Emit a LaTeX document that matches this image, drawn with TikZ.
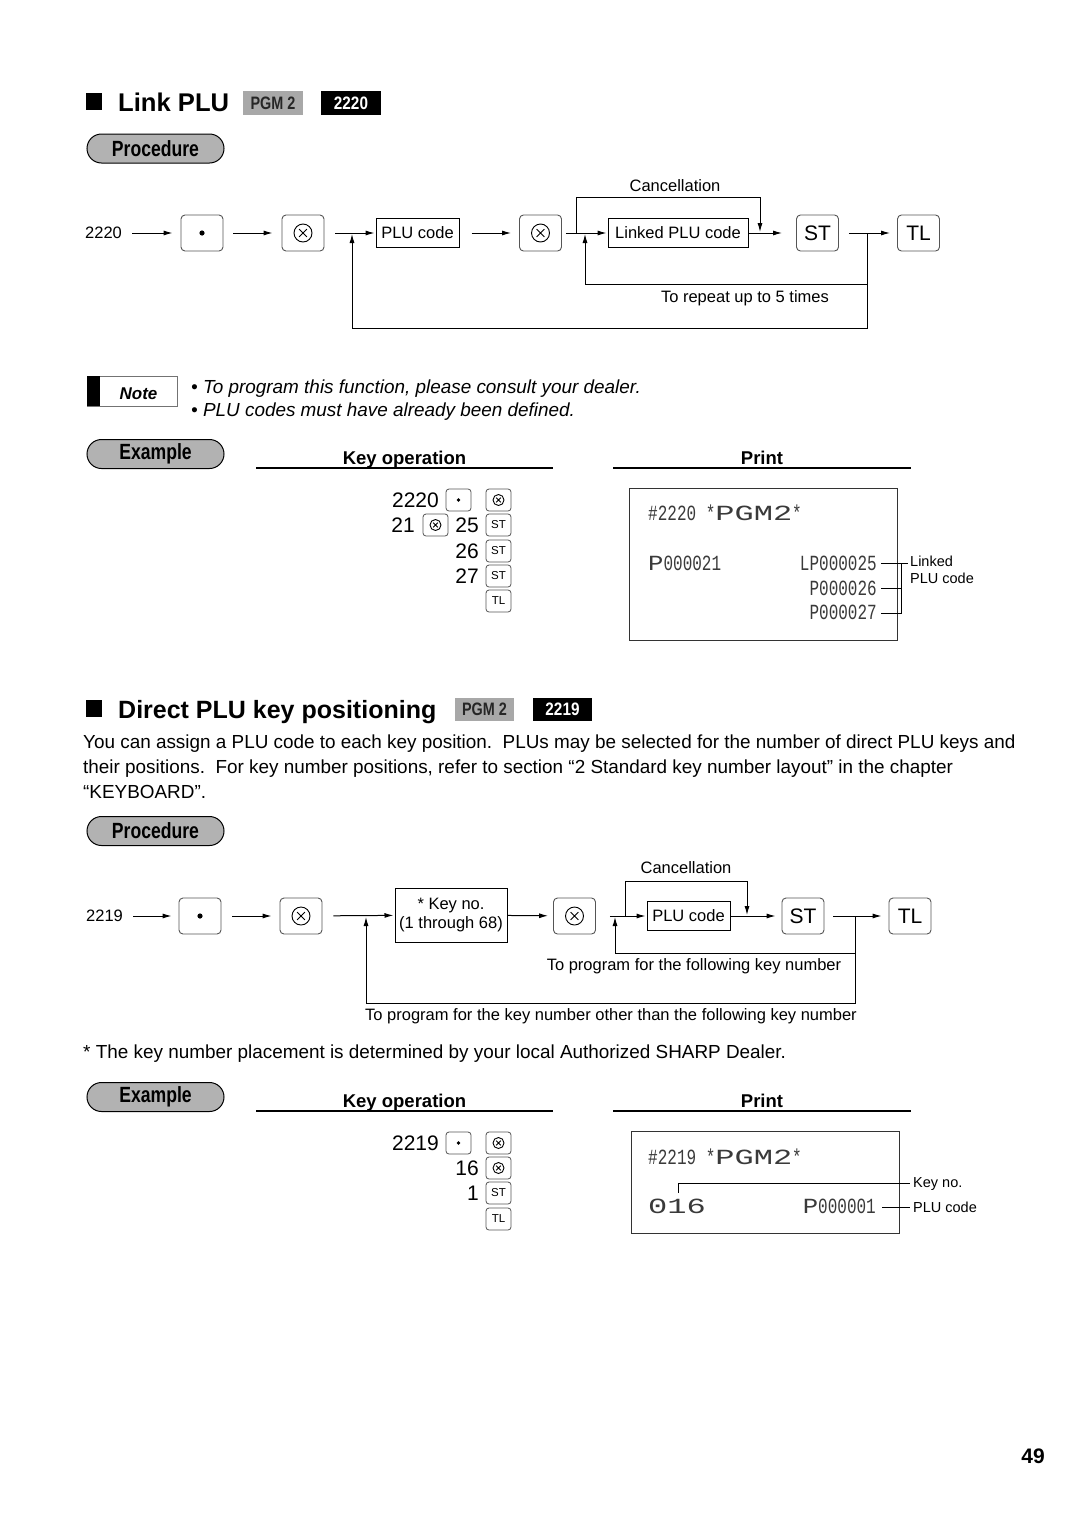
\documentclass[tikz,border=0pt]{standalone}
\usepackage{fontspec}
\usepackage{graphicx}
\setmainfont{Liberation Sans}
\newfontfamily\monofont{Liberation Mono}
\usetikzlibrary{arrows.meta}
\newcommand\fsz[2]{\fontsize{#1}{#2}\selectfont}
\newcommand\otimesmark[3]{\draw[line width=0.9pt] (#1.center) circle (#2)
  ([shift={(45:#3)}]#1.center) -- ([shift={(225:#3)}]#1.center)
  ([shift={(135:#3)}]#1.center) -- ([shift={(-45:#3)}]#1.center);}
\newcommand\dotmark[2]{\fill (#1.center) circle (#2);}
\newcommand\dm{\monofont\fsz{16}{16}}
\newcommand\tall[1]{\scalebox{1}[1.35]{#1}}
\definecolor{pillgray}{HTML}{B2B2B2}
\definecolor{pgmgray}{HTML}{A8A8A8}
\definecolor{keyedge}{HTML}{555555}
\definecolor{printgray}{HTML}{3A3A3A}
\tikzset{
 flow/.style={-{Latex[length=9pt,width=5pt]}, line width=1pt},
 wire/.style={line width=1pt},
 keybig/.style={draw=keyedge, line width=0.9pt, rounded corners=4pt, minimum width=42pt, minimum height=36pt, inner sep=0pt, font=\fsz{21}{21}},
 keysm/.style={draw=keyedge, line width=0.8pt, rounded corners=3pt, minimum width=25pt, minimum height=22pt, inner sep=0pt, font=\fsz{11.5}{11.5}},
 codebox/.style={draw, line width=1pt, minimum height=29pt, inner xsep=4pt, inner ysep=0pt, font=\fsz{16.5}{19}},
 lbl/.style={font=\fsz{16.5}{19}, inner sep=0pt},
 pill/.style={draw, line width=1pt, fill=pillgray, rounded corners=14.5pt, minimum width=137pt, minimum height=29pt, inner sep=0pt},
 pgm/.style={fill=pgmgray, minimum width=60pt, minimum height=24pt, inner sep=0pt, text=black!85, font=\fsz{18}{18}\bfseries},
 codetag/.style={fill=black, minimum width=60pt, minimum height=24pt, inner sep=0pt, text=white, font=\fsz{18}{18}\bfseries},
 head/.style={font=\fsz{18.5}{18.5}\bfseries, inner sep=0pt},
 num/.style={font=\fsz{21}{21}, inner sep=0pt, anchor=east},
 body/.style={font=\fsz{18.9}{18.9}, inner sep=0pt, anchor=base west},
 prt/.style={font=\dm, text=printgray, inner sep=0pt},
 small/.style={font=\fsz{14.5}{17}, inner sep=0pt, anchor=west, align=left},
}
\begin{document}
\begin{tikzpicture}[x=1pt,y=-1pt]
\useasboundingbox (0,0) rectangle (1080,1526);
\fill[white] (0,0) rectangle (1080,1526);

% ===== Section 1 title =====
\fill (86,93) rectangle (102,110);
\node[anchor=base west, inner sep=0pt, font=\fsz{25.6}{25.6}\bfseries] (t1) at (118,111) {Link PLU};
\node[pgm] (pgm1) at (273,103) {\scalebox{0.8}[1]{PGM 2}};
\node[codetag] (tag1) at (351,103) {\scalebox{0.85}[1]{2220}};
\node[pill] (proc1) at (155.5,148.5) {\scalebox{0.8}[1]{\fsz{22}{22}\bfseries Procedure}};

% ===== Flow 1 =====
\node[lbl, anchor=west] (s1) at (85,233) {2220};
\node[keybig] (k1a) at (202,233) {};
\dotmark{k1a}{2.6pt}
\node[keybig] (k1b) at (303,233) {};
\otimesmark{k1b}{9pt}{5.5pt}
\node[codebox, minimum width=83pt] (p1) at (417.5,233) {PLU code};
\node[keybig] (k1c) at (540.5,233) {};
\otimesmark{k1c}{9pt}{5.5pt}
\node[codebox, minimum width=140pt] (l1) at (678,233) {Linked PLU code};
\node[keybig] (st1) at (817.5,233) {ST};
\node[keybig] (tl1) at (918.5,233) {TL};

\draw[flow, shorten <=10pt, shorten >=8pt] (s1) -- (k1a);
\draw[flow, shorten <=10pt, shorten >=9pt] (k1a) -- (k1b);
\draw[flow, shorten <=11pt, shorten >=1pt] (k1b) -- (p1);
\draw[flow, shorten <=12pt, shorten >=8pt] (p1) -- (k1c);
\draw[flow, shorten <=4pt, shorten >=1pt] (k1c) -- (l1);
\draw[flow, shorten >=14pt] (l1) -- (st1);
\draw[flow, shorten <=10pt, shorten >=7pt] (st1) -- (tl1);

\coordinate (c1a) at (576,233);
\coordinate (c1b) at (760,232);
\draw[flow] (c1a) -- (576,197) -- (760,197) -- (c1b);
\node[lbl] (canc1) at (675,186) {Cancellation};

\coordinate (j1) at (867,233);
\coordinate (r1) at (585,234);
\coordinate (o1) at (352,234);
\draw[flow] (j1) |- (585,284) -- (r1);
\draw[flow] (j1) |- (352,328) -- (o1);
\node[lbl] (rep1) at (745,298) {To repeat up to 5 times};

% ===== Note =====
\node[draw=black!55, line width=0.8pt, minimum width=90pt, minimum height=30pt, inner sep=0pt, anchor=north west] (note) at (87,376) {};
\fill (87,376) rectangle (100,406);
\node[font=\fsz{17}{17}\bfseries\itshape, inner sep=0pt] (notet) at (138.5,394) {Note};
\node[anchor=base west, font=\fsz{18.9}{18.9}\itshape, inner sep=0pt] (nl1) at (191,393) {• To program this function, please consult your dealer.};
\node[anchor=base west, font=\fsz{18.9}{18.9}\itshape, inner sep=0pt] (nl2) at (191,416) {• PLU codes must have already been defined.};

% ===== Example 1 =====
\node[pill] (ex1) at (155.5,454) {\scalebox{0.8}[1]{\fsz{22}{22}\bfseries Example}};
\node[head] (ko1) at (404.5,459.5) {Key operation};
\draw[line width=1.2pt] (256,468) -- (553,468);
\node[head] (pr1) at (762,458) {Print};
\draw[line width=1.2pt] (613,468) -- (911,468);

\node[num] (e1n1) at (439,500) {2220};
\node[keysm] (e1k1) at (458.5,500) {};
\dotmark{e1k1}{1.8pt}
\node[keysm] (e1k2) at (498.5,500) {};
\otimesmark{e1k2}{5.5pt}{3.3pt}
\node[num] (e1n2) at (415,525) {21};
\node[keysm] (e1k3) at (435.5,525) {};
\otimesmark{e1k3}{5.5pt}{3.3pt}
\node[num] (e1n3) at (479,525) {25};
\node[keysm] (e1k4) at (498.5,525) {ST};
\node[num] (e1n4) at (479,551) {26};
\node[keysm] (e1k5) at (498.5,551) {ST};
\node[num] (e1n5) at (479,576) {27};
\node[keysm] (e1k6) at (498.5,576) {ST};
\node[keysm] (e1k7) at (498.5,601) {TL};

% print 1
\node[draw=black!80, line width=1.1pt, minimum width=268pt, minimum height=152pt, inner sep=0pt, anchor=north west] (pb1) at (629,488) {};
\node[prt, anchor=west] (pa1) at (648,513) {\tall{\#2220 *\scalebox{2}[1]{PGM2}*}};
\node[prt, anchor=west] (pa2) at (648,563) {\tall{\scalebox{1.6}[1]{P}000021}};
\node[prt, anchor=east] (pa3) at (877,563) {\tall{LP000025}};
\node[prt, anchor=east] (pa4) at (877,588) {\tall{P000026}};
\node[prt, anchor=east] (pa5) at (877,612) {\tall{P000027}};
\coordinate (b1) at (908,563);
\coordinate (b2) at (901,588);
\coordinate (b3) at (901,613);
\draw[line width=0.9pt] ([xshift=4pt]pa3.east) -- (b1);
\draw[line width=0.9pt] ([xshift=4pt]pa4.east) -- (b2);
\draw[line width=0.9pt] ([xshift=4pt]pa5.east |- b3) -- (b3) -- (901,563);
\node[small] (lk1) at (910,570) {Linked\\PLU code};

% ===== Section 2 title =====
\fill (86,700) rectangle (102,717);
\node[anchor=base west, inner sep=0pt, font=\fsz{25}{25}\bfseries] (t2) at (118,718) {Direct PLU key positioning};
\node[pgm, minimum width=59pt, minimum height=23pt] (pgm2) at (484.5,709.5) {\scalebox{0.8}[1]{PGM 2}};
\node[codetag, minimum width=59pt, minimum height=23pt] (tag2) at (562.5,709.5) {\scalebox{0.85}[1]{2219}};

\node[body] (par1) at (83,748) {You can assign a PLU code to each key position.\ \ PLUs may be selected for the number of direct PLU keys and};
\node[body] (par2) at (83,773) {their positions.\ \ For key number positions, refer to section “2 Standard key number layout” in the chapter};
\node[body] (par3) at (83,798) {“KEYBOARD”.};

\node[pill] (proc2) at (155.5,831) {\scalebox{0.8}[1]{\fsz{22}{22}\bfseries Procedure}};

% ===== Flow 2 =====
\node[lbl, anchor=west] (s2) at (86,916) {2219};
\node[keybig] (k2a) at (200,916) {};
\dotmark{k2a}{2.6pt}
\node[keybig] (k2b) at (301,916) {};
\otimesmark{k2b}{9pt}{5.5pt}
\node[codebox, minimum width=112pt, minimum height=54pt, align=center] (kb2) at (451,915) {* Key no.\\(1 through 68)};
\node[keybig] (k2c) at (574.5,916) {};
\otimesmark{k2c}{9pt}{5.5pt}
\node[codebox, minimum width=83pt] (p2) at (688.5,916) {PLU code};
\node[keybig] (st2) at (803,916) {ST};
\node[keybig] (tl2) at (910,916) {TL};

\draw[flow, shorten <=10pt, shorten >=7pt] (s2) -- (k2a);
\draw[flow, shorten <=11pt, shorten >=8pt] (k2a) -- (k2b);
\draw[flow, shorten <=11pt, shorten >=1pt] (k2b) -- (kb2);
\draw[flow, shorten >=5pt] (kb2) -- (k2c);
\draw[flow, shorten <=14pt, shorten >=1pt] (k2c) -- (p2);
\draw[flow, shorten >=6pt] (p2) -- (st2);
\draw[flow, shorten <=9pt, shorten >=7pt] (st2) -- (tl2);

\coordinate (c2a) at (625,916);
\coordinate (c2b) at (747,915);
\draw[flow] (c2a) -- (625,881) -- (747,881) -- (c2b);
\node[lbl] (canc2) at (686,868) {Cancellation};

\coordinate (j2) at (855,916);
\coordinate (r2) at (615,917);
\coordinate (o2) at (366,917);
\draw[flow] (j2) |- (615,953) -- (r2);
\draw[flow] (j2) |- (366,1003) -- (o2);
\node[lbl] (fk2) at (694,966) {To program for the following key number};
\node[lbl] (ok2) at (611,1016) {To program for the key number other than the following key number};

\node[body] (foot) at (83,1058) {* The key number placement is determined by your local Authorized SHARP Dealer.};

% ===== Example 2 =====
\node[pill] (ex2) at (155.5,1097) {\scalebox{0.8}[1]{\fsz{22}{22}\bfseries Example}};
\node[head] (ko2) at (404.5,1102.5) {Key operation};
\draw[line width=1.2pt] (256,1111) -- (553,1111);
\node[head] (pr2) at (762,1101) {Print};
\draw[line width=1.2pt] (613,1111) -- (911,1111);

\node[num] (e2n1) at (439,1143) {2219};
\node[keysm] (e2k1) at (458.5,1143) {};
\dotmark{e2k1}{1.8pt}
\node[keysm] (e2k2) at (498.5,1143) {};
\otimesmark{e2k2}{5.5pt}{3.3pt}
\node[num] (e2n2) at (479,1168) {16};
\node[keysm] (e2k3) at (498.5,1168) {};
\otimesmark{e2k3}{5.5pt}{3.3pt}
\node[num] (e2n3) at (479,1193) {1};
\node[keysm] (e2k4) at (498.5,1193) {ST};
\node[keysm] (e2k5) at (498.5,1219) {TL};

% print 2
\node[draw=black!80, line width=1.1pt, minimum width=268pt, minimum height=102pt, inner sep=0pt, anchor=north west] (pb2) at (631,1131) {};
\node[prt, anchor=west] (pc1) at (648,1157) {\tall{\#2219 *\scalebox{2}[1]{PGM2}*}};
\node[prt, anchor=west] (pc2) at (648,1206) {\tall{\scalebox{2}[1]{016}}};
\node[prt, anchor=east] (pc3) at (876,1206) {\tall{\scalebox{1.6}[1]{P}000001}};
\coordinate (kn1) at (678,1193);
\coordinate (kn2) at (910,1183);
\coordinate (pl2) at (910,1207);
\draw[line width=0.9pt] (kn1) |- (kn2);
\draw[line width=0.9pt] ([xshift=6pt]pc3.east |- pl2) -- (pl2);
\node[small] (kl2) at (913,1184) {Key no.};
\node[small] (pll2) at (913,1207) {PLU code};

\node[font=\fsz{21}{21}\bfseries, inner sep=0pt] (pg) at (1033,1456) {49};
\end{tikzpicture}
\end{document}
